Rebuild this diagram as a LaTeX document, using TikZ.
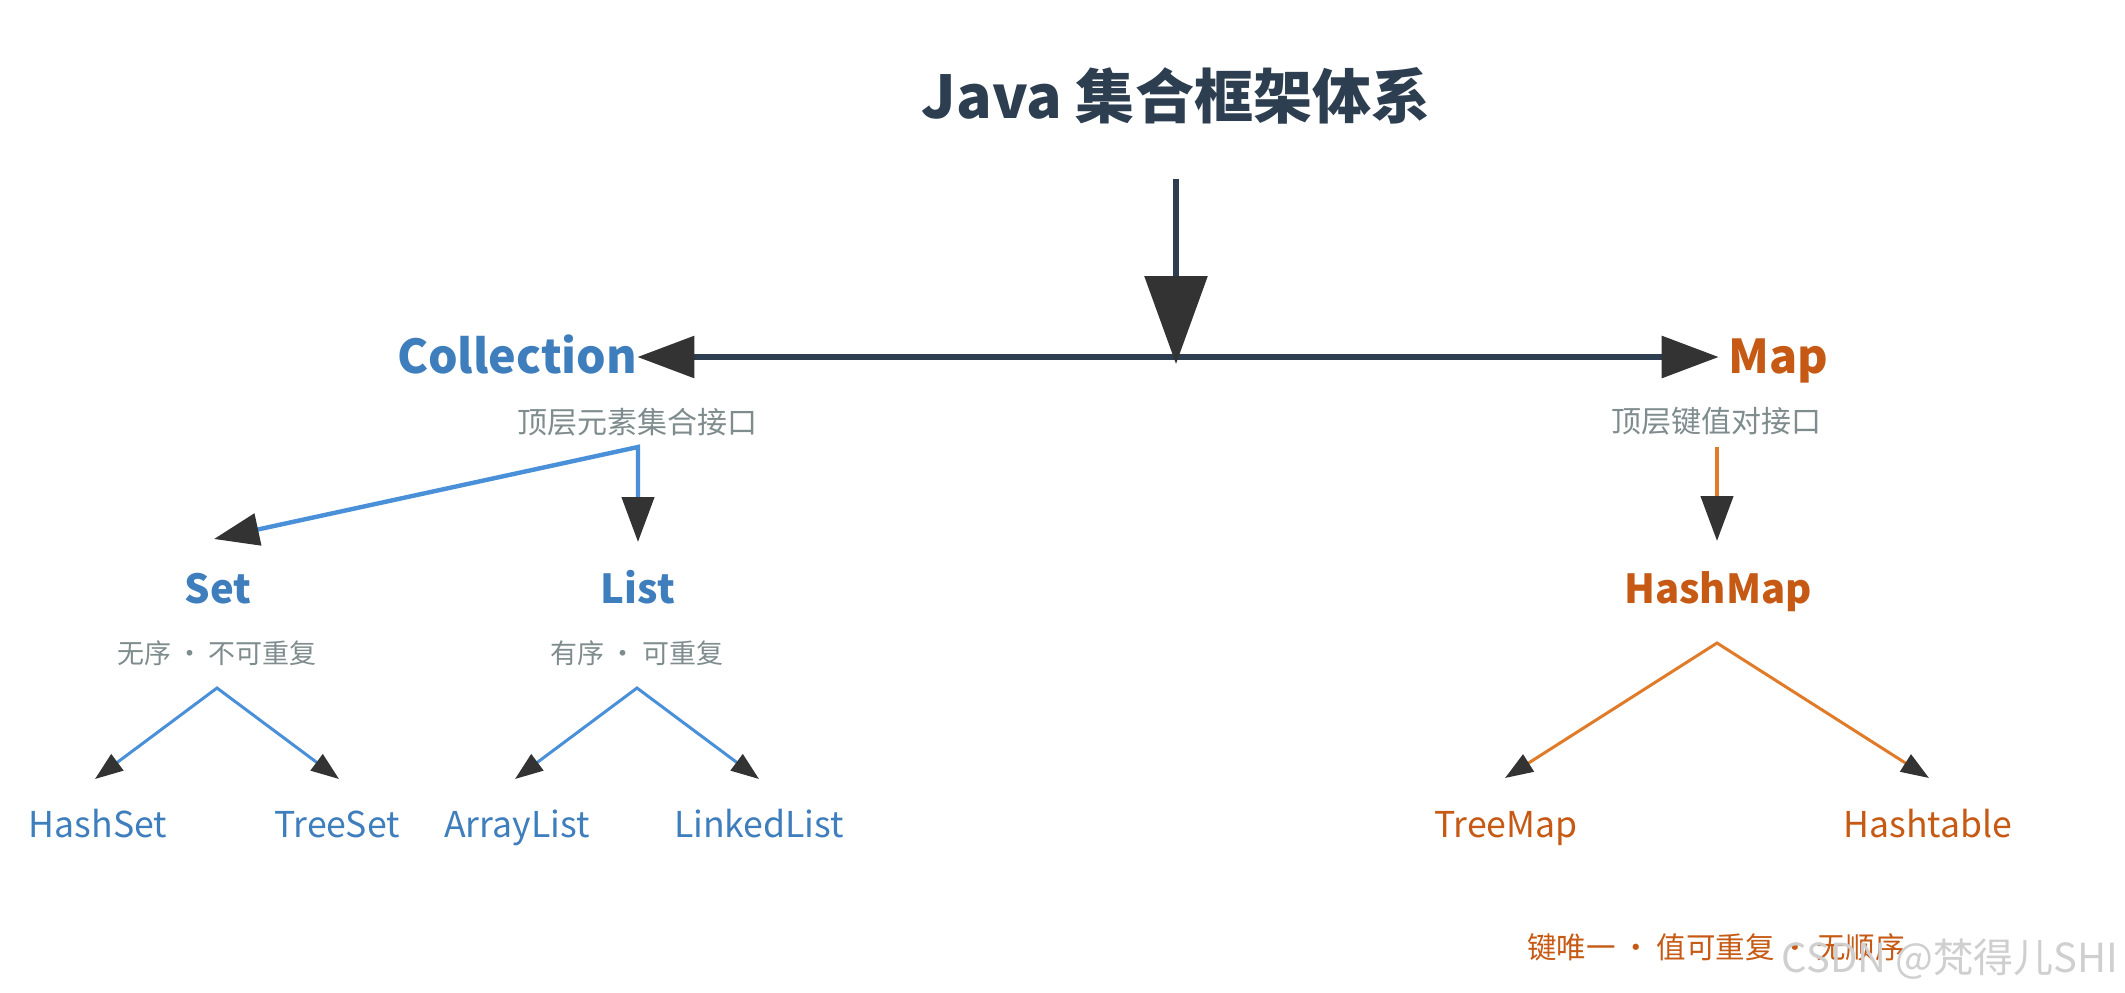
\documentclass[tikz,border=0pt]{standalone}
\usepackage{fontspec}
\setmainfont{Noto Sans CJK SC}
\usetikzlibrary{arrows.meta}
\definecolor{slate}{HTML}{2C3E50}
\definecolor{tipgray}{HTML}{333333}
\definecolor{jblue}{HTML}{3F7EBD}
\definecolor{lblue}{HTML}{4A90D9}
\definecolor{jorange}{HTML}{C65A15}
\definecolor{lorange}{HTML}{E07B2A}
\definecolor{subgray}{HTML}{7F8C8D}
\definecolor{wmgray}{HTML}{CFCFCF}
\newcommand\midsep{\hspace{0.2em}·\hspace{0.2em}}
\tikzset{
  txt/.style={inner sep=0pt, anchor=base},
  titlestyle/.style={txt, font=\fontsize{29.5pt}{36pt}\selectfont\bfseries, text=slate},
  bigblue/.style={txt, font=\fontsize{23.3pt}{28pt}\selectfont\bfseries, text=jblue},
  bigorange/.style={txt, font=\fontsize{23.3pt}{28pt}\selectfont\bfseries, text=jorange},
  midblue/.style={txt, font=\fontsize{20pt}{24pt}\selectfont\bfseries, text=jblue},
  midorange/.style={txt, font=\fontsize{20pt}{24pt}\selectfont\bfseries, text=jorange},
  leafblue/.style={txt, font=\fontsize{17.8pt}{21pt}\selectfont, text=jblue},
  leaforange/.style={txt, font=\fontsize{17.8pt}{21pt}\selectfont, text=jorange},
  sublabel/.style={txt, font=\fontsize{15pt}{18pt}\selectfont, text=subgray},
  smallsub/.style={txt, font=\fontsize{13.5pt}{16pt}\selectfont, text=subgray},
  notestyle/.style={txt, font=\fontsize{14.75pt}{18pt}\selectfont, text=jorange},
  wmstyle/.style={txt, font=\fontsize{20pt}{24pt}\selectfont, text=wmgray},
  darkline/.style={draw=slate, line width=3pt},
  blueline/.style={draw=lblue, line width=2.2pt, line join=miter},
  thinblue/.style={draw=lblue, line width=1.5pt, line join=miter},
  orangeline/.style={draw=lorange, line width=2.2pt},
  thinorange/.style={draw=lorange, line width=1.5pt, line join=miter},
  bigtip/.tip={Triangle[length=44pt, width=31pt, color=tipgray]},
  hubtip/.tip={Triangle[length=28.5pt, width=20.5pt, color=tipgray]},
  midtip/.tip={Triangle[length=22.5pt, width=16pt, color=tipgray]},
  smalltip/.tip={Triangle[length=14pt, width=10pt, color=tipgray]},
}
\begin{document}
\begin{tikzpicture}[x=0.5pt, y=-0.5pt]
\useasboundingbox (0,0) rectangle (2125,992);
\fill[white] (0,0) rectangle (2125,992);

% title and hub
\node[titlestyle] (title) at (1176,118) {Java 集合框架体系};
\coordinate (stem) at (1176,179);
\coordinate (hub) at (1176,357);
\coordinate (hubend) at (1176,364);

\node[bigblue] (collection) at (517,373) {Collection};
\node[bigorange] (map) at (1778,373) {Map};
\draw[darkline, {hubtip}-{hubtip}] (collection.east |- hub) -- ([xshift=-4.5pt]map.west |- hub);
\draw[darkline, -{bigtip}] (stem) -- (hubend);

% Collection branch
\node[sublabel] (colsub) at (637,433) {顶层元素集合接口};
\coordinate (colfork) at (638,447);
\node[midblue] (set) at (218,603) {Set};
\node[midblue] (list) at (638,603) {List};
\draw[blueline, {midtip}-{midtip}] ([xshift=-2pt,yshift=32pt]set.base) -- (colfork) -- ([yshift=30.5pt]list.base);

\node[smallsub] (setsub) at (217,663) {无序\midsep 不可重复};
\node[smallsub] (listsub) at (637,663) {有序\midsep 可重复};
\coordinate (setfork) at (217,688);
\coordinate (listfork) at (637,688);

\node[leafblue] (hashset) at (98,837) {HashSet};
\node[leafblue] (treeset) at (337,837) {TreeSet};
\node[leafblue] (arraylist) at (517,837) {ArrayList};
\node[leafblue] (linkedlist) at (759,837) {LinkedList};
\draw[thinblue, {smalltip}-{smalltip}] ([xshift=-1.5pt,yshift=29pt]hashset.base) -- (setfork) -- ([xshift=1pt,yshift=29pt]treeset.base);
\draw[thinblue, {smalltip}-{smalltip}] ([xshift=-1pt,yshift=29pt]arraylist.base) -- (listfork) -- ([yshift=29pt]linkedlist.base);

% Map branch
\node[sublabel] (mapsub) at (1716,432) {顶层键值对接口};
\coordinate (mapfork) at (1717,447);
\node[midorange] (hashmap) at (1718,603) {HashMap};
\coordinate (hmtip) at ([xshift=-0.5pt,yshift=31pt]hashmap.base);
\draw[orangeline, -{midtip}] (mapfork) -- (hmtip);
\coordinate (hmfork) at (1717,643);
\node[leaforange] (treemap) at (1506,837) {TreeMap};
\node[leaforange] (hashtable) at (1928,837) {Hashtable};
\draw[thinorange, {smalltip}-{smalltip}] ([xshift=-0.5pt,yshift=29.5pt]treemap.base) -- (hmfork) -- ([xshift=0.5pt,yshift=29.5pt]hashtable.base);

\node[notestyle] (note) at (1716,958) {键唯一\midsep 值可重复\midsep 无顺序};
\node[wmstyle] (watermark) at (1950,972) {CSDN @梵得儿SHI};
\end{tikzpicture}
\end{document}
